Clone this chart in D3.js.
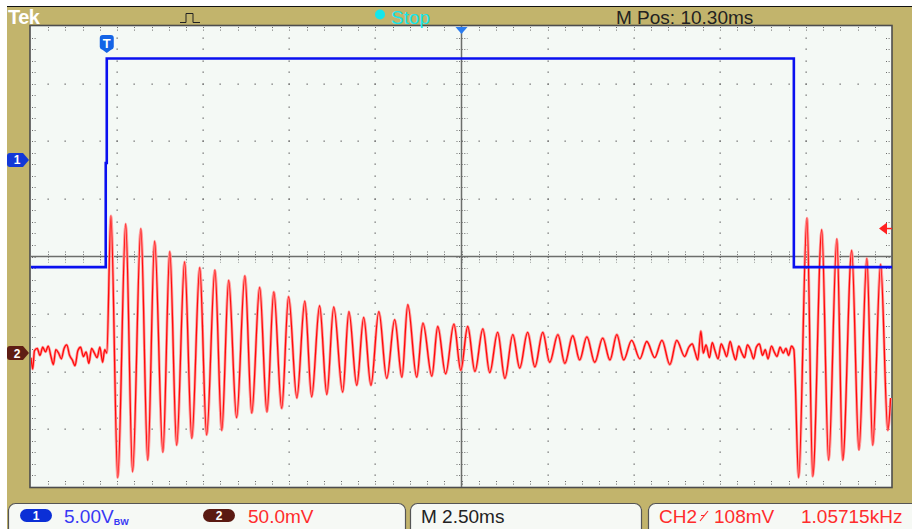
<!DOCTYPE html>
<html>
<head>
<meta charset="utf-8">
<script src="https://cdn.jsdelivr.net/npm/d3@7"></script>
<style>
  html, body { margin: 0; padding: 0; background: #fff; }
  svg { display: block; }
</style>
</head>
<body>
<div id="scope"></div>
<script>
// ---- scope settings ----
const timePerDiv = 2.5;      // ms / div
const timeCenter = 10.30;    // M Pos, ms after trigger
const ch1VoltsPerDiv = 5;    // V / div
const ch2MvPerDiv = 50;      // mV / div
const ch1Offset = 1.675;     // ground marker, divisions above centre
const ch2Offset = -1.675;    // ground marker, divisions below centre
const trigLevelMv = 108;

// CH1 : gate pulse (V), step trace
const ch1Times = [-2.2, -0.03, 0.0, 19.95, 22.8];
const ch1Volts = [-9.3, -0.26, 8.8, -9.3, -9.3];

// CH2 : ringing (mV) - noise before trigger
const preTimes = [-2.20, -2.15, -2.10, -2.02, -1.94, -1.86, -1.78, -1.70, -1.62, -1.55, -1.48, -1.40, -1.32, -1.24, -1.16,
  -1.08, -1.00, -0.92, -0.84, -0.76, -0.68, -0.60, -0.52, -0.44, -0.36, -0.28, -0.20, -0.12, -0.06, 0.00];
const preMv = [-4, -14, 2, 4, -2, 5, 1, 6, -3, -10, 3, 0, -5, 4, 7, -2, -6, -11, 2, 5, -3, 1, -9, 4, 0, -4, 5, -8, 3, 0];

// CH2 : peaks / troughs of the decaying ring
const ringTimes = [0.12, 0.32, 0.55, 0.75, 0.99, 1.19, 1.39, 1.63, 1.83, 2.03, 2.26, 2.47, 2.70, 2.90, 3.14, 3.34,
  3.54, 3.77, 4.01, 4.21, 4.44, 4.65, 4.85, 5.08, 5.28, 5.52, 5.75, 5.95, 6.18, 6.39, 6.59, 6.85, 7.03, 7.26, 7.46,
  7.67, 7.90, 8.13, 8.36, 8.57, 8.74, 9.00, 9.18, 9.44, 9.61, 9.84, 10.08, 10.28, 10.48, 10.69, 10.92, 11.12, 11.35,
  11.56, 11.79, 11.99, 12.22, 12.43, 12.66, 12.86, 13.10, 13.30, 13.53, 13.73, 13.94, 14.17, 14.40, 14.61, 14.81,
  15.01, 15.24, 15.48, 15.68, 15.91, 16.12, 16.35, 16.55, 16.78];
const ringMv = [119, -108, 112, -103, 108, -93, 97, -86, 88, -80, 79, -74, 74, -71, 72, -67, 63, -56, 67, -52, 57, -51,
  53, -48, 49, -39, 45, -38, 41, -36, 40, -34, 36, -28, 31, -28, 36, -22, 29, -21, 42, -21, 26, -20, 23, -18, 25, -15,
  23, -16, 21, -17, 18, -22, 16, -13, 18, -12, 18, -8, 16, -9, 15, -6, 14, -8, 13, -6, 16, -6, 11, -5, 10, -4, 11,
  -10, 11, -3];

// CH2 : noisy tail before the gate falls
const tailTimes = [16.90, 17.00, 17.08, 17.16, 17.25, 17.32, 17.40, 17.50, 17.58, 17.66, 17.75, 17.84, 17.92, 18.00,
  18.10, 18.18, 18.26, 18.35, 18.44, 18.52, 18.60, 18.70, 18.78, 18.86, 18.95, 19.04, 19.12, 19.20, 19.30, 19.38,
  19.46, 19.55, 19.64, 19.72, 19.80, 19.88, 19.95];
const tailMv = [5, 8, 1, -6, 19, 0, 7, -4, 9, 2, -5, 8, 3, -3, 10, 1, -6, 6, 0, -4, 7, 2, -5, 5, 8, -2, 3, -5, 6, 1,
  -3, 5, 0, 4, -2, 6, 3];

// CH2 : second ring after the gate falls
const reRingTimes = [20.09, 20.33, 20.50, 20.76, 20.96, 21.20, 21.37, 21.63, 21.84, 22.07, 22.24, 22.47, 22.68, 22.76];
const reRingMv = [-108, 117, -107, 107, -93, 99, -93, 89, -84, 82, -80, 77, -67, -39];

// ---- layout ----
const W = 912, H = 529;
const plot = { left: 31, right: 892, top: 26, bottom: 487 };
const olive = '#c2b46c';

const svg = d3.select('#scope').append('svg')
    .attr('width', W)
    .attr('height', H)
    .style('font-family', '"Liberation Sans", Arial, sans-serif');

// Scales: time (ms) across, divisions up
const x = d3.scaleLinear()
    .domain([timeCenter - 5 * timePerDiv, timeCenter + 5 * timePerDiv])
    .range([plot.left, plot.right]);
const yDiv = d3.scaleLinear().domain([-4, 4]).range([plot.bottom, plot.top]);
const ch1Y = v => yDiv(v / ch1VoltsPerDiv + ch1Offset);
const ch2Y = mv => yDiv(mv / ch2MvPerDiv + ch2Offset);
const xDiv = d => x(x.domain()[0] + (d + 5) * timePerDiv); // d in [-5, 5]

// Frame
svg.append('rect').attr('width', W).attr('height', H).attr('fill', '#fff');
svg.append('rect').attr('x', 7).attr('y', 7).attr('width', W - 7).attr('height', H - 7).attr('fill', olive);
svg.append('line').attr('x1', 7).attr('x2', W).attr('y1', 6.5).attr('y2', 6.5)
    .attr('stroke', '#111').attr('stroke-width', 1);

svg.append('rect')
    .attr('x', plot.left - 1).attr('y', plot.top - 0.5)
    .attr('width', plot.right - plot.left + 1).attr('height', plot.bottom - plot.top + 1)
    .attr('fill', '#f4f9f5')
    .attr('stroke', '#4d4d4d')
    .attr('stroke-width', 1.6);

// ---- graticule ----
const grid = svg.append('g').attr('fill', '#6f6f6f');
const fifths = d3.range(1, 40).map(i => -4 + i * 0.2);   // vertical steps (div)
const fifthsX = d3.range(1, 50).map(i => -5 + i * 0.2);  // horizontal steps (div)

// dotted vertical grid lines
[-4, -3, -2, -1, 1, 2, 3, 4].forEach(dx => {
    grid.selectAll(null).data(fifths).enter().append('rect')
        .attr('x', Math.round(xDiv(dx)) - 0.5)
        .attr('y', d => Math.round(yDiv(d)) - 0.5)
        .attr('width', 1.3).attr('height', 1.3);
});
// dotted horizontal grid lines
[-3, -2, -1, 1, 2, 3].forEach(dy => {
    grid.selectAll(null).data(fifthsX).enter().append('rect')
        .attr('x', d => Math.round(xDiv(d)) - 0.5)
        .attr('y', Math.round(yDiv(dy)) - 0.5)
        .attr('width', 1.3).attr('height', 1.3);
});

// small ticks on edges and on the centre cross
const tickG = svg.append('g')
    .attr('stroke', '#6a6a6a')
    .attr('stroke-width', 1)
    .attr('stroke-dasharray', '1,1.6');
fifths.forEach(d => {
    const yy = Math.round(yDiv(d)) + 0.5;
    tickG.append('line').attr('x1', plot.left + 1).attr('x2', plot.left + 6).attr('y1', yy).attr('y2', yy);
    tickG.append('line').attr('x1', plot.right - 6).attr('x2', plot.right - 1).attr('y1', yy).attr('y2', yy);
    tickG.append('line').attr('x1', xDiv(0) - 5).attr('x2', xDiv(0) + 6).attr('y1', yy).attr('y2', yy);
});
fifthsX.forEach(d => {
    const xx = Math.round(xDiv(d)) + 0.5;
    tickG.append('line').attr('y1', plot.top + 1).attr('y2', plot.top + 6).attr('x1', xx).attr('x2', xx);
    tickG.append('line').attr('y1', plot.bottom - 6).attr('y2', plot.bottom - 1).attr('x1', xx).attr('x2', xx);
    tickG.append('line').attr('y1', yDiv(0) - 5).attr('y2', yDiv(0) + 6).attr('x1', xx).attr('x2', xx);
});

// centre cross
svg.append('line')
    .attr('x1', plot.left).attr('x2', plot.right)
    .attr('y1', yDiv(0)).attr('y2', yDiv(0))
    .attr('stroke', '#6b6e6b').attr('stroke-width', 1.5);
svg.append('line')
    .attr('x1', xDiv(0)).attr('x2', xDiv(0))
    .attr('y1', plot.top).attr('y2', plot.bottom)
    .attr('stroke', '#6b6e6b').attr('stroke-width', 1.5);

// ---- traces ----
svg.append('clipPath').attr('id', 'screen')
    .append('rect')
    .attr('x', plot.left).attr('y', plot.top)
    .attr('width', plot.right - plot.left).attr('height', plot.bottom - plot.top);

const traces = svg.append('g').attr('clip-path', 'url(#screen)');

const ch2Times = preTimes.concat(ringTimes, tailTimes, reRingTimes);
const ch2Mv = preMv.concat(ringMv, tailMv, reRingMv);
const ch2Data = ch2Times.map((t, i) => ({ t, v: ch2Mv[i] }));

const ch2Line = d3.line()
    .x(d => x(d.t))
    .y(d => ch2Y(d.v))
    .curve(d3.curveMonotoneX);

traces.append('path')
    .attr('d', ch2Line(ch2Data))
    .attr('fill', 'none')
    .attr('stroke', '#ff9a9a')
    .attr('stroke-width', 2.8);
traces.append('path')
    .attr('d', ch2Line(ch2Data))
    .attr('fill', 'none')
    .attr('stroke', '#ff0a0a')
    .attr('stroke-width', 1.3);

const ch1Data = ch1Times.map((t, i) => ({ t, v: ch1Volts[i] }));
const ch1Line = d3.line()
    .x(d => x(d.t))
    .y(d => ch1Y(d.v))
    .curve(d3.curveStepAfter);

traces.append('path')
    .attr('d', ch1Line(ch1Data))
    .attr('fill', 'none')
    .attr('stroke', '#0a10f0')
    .attr('stroke-width', 2.6);

// ---- markers ----
// channel ground markers on the left
const chMarker = (yy, fill, label) => {
    const g = svg.append('g').attr('transform', `translate(7, ${yy})`);
    g.append('path')
        .attr('d', 'M3,-7 H16 L22,0 L16,7 H3 Q0,7 0,4 V-4 Q0,-7 3,-7 Z')
        .attr('fill', fill);
    g.append('text')
        .attr('x', 10).attr('y', 4.5)
        .attr('text-anchor', 'middle')
        .attr('fill', '#fff')
        .attr('font-size', 12)
        .attr('font-weight', 'bold')
        .text(label);
};
chMarker(ch1Y(0), '#1238d8', '1');
chMarker(ch2Y(0), '#5e1d14', '2');

// trigger "T" marker at t = 0
const tg = svg.append('g').attr('transform', `translate(${x(0)}, 35)`);
tg.append('path')
    .attr('d', 'M-7,3 Q-7,0 -4,0 H4 Q7,0 7,3 V12 Q7,14 4,15 L0,18 L-4,15 Q-7,14 -7,12 Z')
    .attr('fill', '#1464e6');
tg.append('text')
    .attr('x', 0).attr('y', 13)
    .attr('text-anchor', 'middle')
    .attr('fill', '#fff')
    .attr('font-size', 13)
    .attr('font-weight', 'bold')
    .text('T');

// horizontal position marker at the top centre
svg.append('path')
    .attr('d', `M${xDiv(0) - 6},${plot.top + 1} H${xDiv(0) + 6} L${xDiv(0)},${plot.top + 8} Z`)
    .attr('fill', '#2a7cf0');

// trigger level arrow on the right
const trY = ch2Y(trigLevelMv);
svg.append('path')
    .attr('d', `M${plot.right - 13},${trY} L${plot.right - 5},${trY - 6} V${trY + 6} Z`)
    .attr('fill', '#ff2020');
svg.append('line')
    .attr('x1', plot.right - 6).attr('x2', plot.right)
    .attr('y1', trY).attr('y2', trY)
    .attr('stroke', '#ff2020').attr('stroke-width', 1.5);

// ---- top status bar ----
svg.append('text')
    .attr('x', 8).attr('y', 24)
    .attr('fill', '#fff')
    .attr('font-size', 20)
    .attr('font-weight', 'bold')
    .attr('letter-spacing', -0.5)
    .text('Tek');

svg.append('path')
    .attr('d', 'M180,22.5 H186 V13.5 H193 V22.5 H200')
    .attr('fill', 'none')
    .attr('stroke', '#222')
    .attr('stroke-width', 1);

svg.append('circle').attr('cx', 380).attr('cy', 14.5).attr('r', 5).attr('fill', '#14e6ec');
svg.append('text')
    .attr('x', 391).attr('y', 24)
    .attr('fill', '#14e6ec')
    .attr('font-size', 19)
    .text('Stop');

svg.append('text')
    .attr('x', 616).attr('y', 24)
    .attr('fill', '#222')
    .attr('font-size', 19)
    .text('M Pos: 10.30ms');

// ---- bottom readout panels ----
const panelTop = 503;
[[8, 405], [410, 641], [648, 918]].forEach(([x0, x1]) => {
    svg.append('rect')
        .attr('x', x0 + 0.5).attr('y', panelTop + 0.5)
        .attr('width', x1 - x0).attr('height', 34)
        .attr('rx', 7)
        .attr('fill', '#f6f9f5')
        .attr('stroke', '#555')
        .attr('stroke-width', 1.2);
});

const pill = (x0, fill, label) => {
    svg.append('rect')
        .attr('x', x0).attr('y', 509)
        .attr('width', 32).attr('height', 13)
        .attr('rx', 6.5)
        .attr('fill', fill);
    svg.append('text')
        .attr('x', x0 + 16).attr('y', 520)
        .attr('text-anchor', 'middle')
        .attr('fill', '#fff')
        .attr('font-size', 12)
        .attr('font-weight', 'bold')
        .text(label);
};
pill(20, '#0b2fd6', '1');
pill(203, '#5a1a12', '2');

const readout = svg.append('g').attr('font-size', 19);
const ch1Text = readout.append('text').attr('x', 64).attr('y', 523).attr('fill', '#3838f4');
ch1Text.append('tspan').text('5.00V');
ch1Text.append('tspan').attr('font-size', 9).attr('font-weight', 'bold').attr('dy', 2).text('BW');

readout.append('text').attr('x', 248).attr('y', 523).attr('fill', '#ff2c2c').text('50.0mV');
readout.append('text').attr('x', 421).attr('y', 523).attr('fill', '#222').text('M 2.50ms');
readout.append('text').attr('x', 659).attr('y', 523).attr('fill', '#ff2c2c').text('CH2');
svg.append('path')
    .attr('d', 'M700,521 L708,511 M701,515.5 H704')
    .attr('fill', 'none')
    .attr('stroke', '#ff2c2c')
    .attr('stroke-width', 1.2);
readout.append('text').attr('x', 714).attr('y', 523).attr('fill', '#ff2c2c').text('108mV');
readout.append('text').attr('x', 801).attr('y', 523).attr('fill', '#ff2c2c').text('1.05715kHz');
</script>
</body>
</html>
